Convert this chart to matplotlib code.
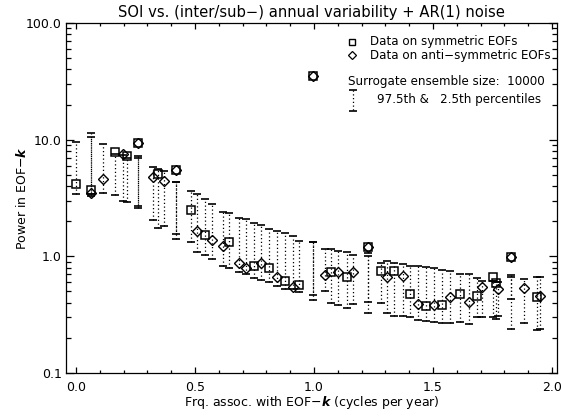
import numpy as np
import matplotlib
matplotlib.use("Agg")
import matplotlib.pyplot as plt

# ---------------- data ----------------
sym_freq = [0.000, 0.062, 0.164, 0.213, 0.262, 0.346, 0.420, 0.482, 0.542, 0.644,
            0.749, 0.812, 0.878, 0.938, 0.997, 1.070, 1.140, 1.228, 1.282, 1.338,
            1.403, 1.469, 1.539, 1.613, 1.684, 1.753, 1.765, 1.826, 1.938]
sym_val = [4.2, 3.7, 7.8, 7.2, 9.3, 5.1, 5.5, 2.5, 1.52, 1.33,
           0.83, 0.80, 0.61, 0.57, 35.0, 0.74, 0.66, 1.2, 0.75, 0.75,
           0.48, 0.376, 0.38, 0.48, 0.46, 0.66, 0.59, 0.98, 0.45]
sym_lo = [3.4, 3.4, 3.36, 2.95, 2.6, 1.76, 1.56, 1.34, 1.02, 0.79,
          0.65, 0.60, 0.53, 0.49, 0.47, 0.40, 0.36, 0.41, 0.40, 0.31,
          0.30, 0.28, 0.267, 0.275, 0.30, 0.30, 0.29, 0.24, 0.234]
sym_hi = [9.5, 11.3, 7.6, 7.0, 7.0, 5.6, 4.3, 3.6, 3.1, 2.34,
          1.92, 1.71, 1.58, 1.36, 1.34, 1.16, 1.10, 1.06, 0.87, 0.88,
          0.82, 0.81, 0.77, 0.71, 0.65, 0.62, 0.60, 0.69, 0.67]

anti_freq = [0.062, 0.115, 0.199, 0.262, 0.322, 0.371, 0.420, 0.507, 0.573, 0.616,
             0.685, 0.713, 0.779, 0.843, 0.913, 0.997, 1.046, 1.102, 1.165, 1.228,
             1.305, 1.372, 1.435, 1.504, 1.571, 1.653, 1.707, 1.774, 1.826, 1.884,
             1.950]
anti_val = [3.5, 4.6, 7.6, 9.3, 4.8, 4.4, 5.5, 1.66, 1.38, 1.23,
            0.88, 0.79, 0.87, 0.67, 0.55, 35.0, 0.69, 0.73, 0.74, 1.2,
            0.67, 0.68, 0.39, 0.38, 0.45, 0.41, 0.55, 0.53, 0.98, 0.54,
            0.46]
anti_lo = [3.3, 3.5, 3.0, 2.7, 2.05, 1.82, 1.41, 1.10, 0.95, 0.82,
           0.73, 0.70, 0.63, 0.56, 0.52, 0.42, 0.50, 0.38, 0.39, 0.33,
           0.33, 0.31, 0.285, 0.275, 0.267, 0.262, 0.30, 0.31, 0.43, 0.27,
           0.24]
anti_hi = [10.5, 9.1, 7.4, 7.2, 5.8, 5.4, 4.3, 3.44, 2.8, 2.42,
           2.15, 2.08, 1.85, 1.65, 1.48, 1.34, 1.15, 1.12, 1.03, 1.00,
           0.91, 0.86, 0.83, 0.79, 0.75, 0.71, 0.62, 0.60, 0.66, 0.64,
           0.67]

x_ticks = [0.0, 0.5, 1.0, 1.5, 2.0]
x_ticklabels = ["0.0", "0.5", "1.0", "1.5", "2.0"]
y_ticks = [0.1, 1.0, 10.0, 100.0]
y_ticklabels = ["0.1", "1.0", "10.0", "100.0"]

title = "SOI vs. (inter/sub\u2212) annual variability + AR(1) noise"
xlabel = r"Frq. assoc. with EOF$-\mathbfit{k}$ (cycles per year)"
ylabel = r"Power in EOF$-\mathbfit{k}$"
legend_rows = ["Data on symmetric EOFs", "Data on anti\u2212symmetric EOFs",
               "Surrogate ensemble size:  10000", "97.5th &   2.5th percentiles"]

# ---------------- figure ----------------
plt.rcParams["font.family"] = ["DejaVu Sans"]
plt.rcParams["mathtext.fontset"] = "dejavusans"
W, H = 561, 418
fig = plt.figure(figsize=(W / 100, H / 100), dpi=100)
ax = fig.add_axes([66 / W, 1 - 373 / H, (557 - 66) / W, (373 - 23) / H])
ax.set_yscale("log")
ax.set_xlim(-0.042, 2.021)
ax.set_ylim(0.1, 100)

dot = (0, (1, 2.0))
cap_ms = 6.0
for f, lo, hi in [(sym_freq, sym_lo, sym_hi), (anti_freq, anti_lo, anti_hi)]:
    ax.vlines(f, lo, hi, colors="black", linestyles=dot, linewidth=0.9)
    ax.plot(f, lo, ls="none", marker="_", ms=cap_ms, mew=1.2, color="black")
    ax.plot(f, hi, ls="none", marker="_", ms=cap_ms, mew=1.2, color="black")

ax.plot(sym_freq, sym_val, ls="none", marker="s", ms=5.3, mfc="none",
        mec="black", mew=1.1)
ax.plot(anti_freq, anti_val, ls="none", marker="D", ms=4.6, mfc="none",
        mec="black", mew=1.0)

ax.set_xticks(x_ticks)
ax.set_xticklabels(x_ticklabels)
ax.set_yticks(y_ticks)
ax.set_yticklabels(y_ticklabels)
ax.xaxis.set_minor_locator(matplotlib.ticker.MultipleLocator(0.1))
ax.yaxis.set_minor_locator(matplotlib.ticker.LogLocator(base=10, subs=np.arange(2, 10)))
ax.yaxis.set_minor_formatter(matplotlib.ticker.NullFormatter())
ax.tick_params(axis="both", which="both", direction="in", top=True, right=True,
               labelsize=9, width=0.9, colors="black")
ax.tick_params(axis="x", which="major", length=4, pad=6)
ax.tick_params(axis="x", which="minor", length=2.3)
ax.tick_params(axis="y", which="major", length=6, pad=3)
ax.tick_params(axis="y", which="minor", length=3.5)
for s in ax.spines.values():
    s.set_linewidth(0.9)

ax.set_title(title, fontsize=10.6, pad=4)
ax.set_xlabel(xlabel, fontsize=9, labelpad=0)
ax.set_ylabel(ylabel, fontsize=9)
ax.yaxis.set_label_coords((29 - 66) / (557 - 66), 0.5)

# legend (manual, IDL style)
def ax_xy(px, py):
    return ((px - 66) / (557 - 66), (373 - py) / (373 - 23))

fs = 8.6
ax.plot(*ax_xy(352, 42), transform=ax.transAxes, marker="s", ms=4.2, mfc="none",
        mec="black", mew=1.0, ls="none")
ax.text(*ax_xy(370, 42), legend_rows[0], transform=ax.transAxes, fontsize=fs, va="center")
ax.plot(*ax_xy(352, 55), transform=ax.transAxes, marker="D", ms=3.6, mfc="none",
        mec="black", mew=0.9, ls="none")
ax.text(*ax_xy(370, 55), legend_rows[1], transform=ax.transAxes, fontsize=fs, va="center")
ax.text(*ax_xy(348, 81), legend_rows[2], transform=ax.transAxes, fontsize=fs, va="center")
x0, y_top = ax_xy(353, 90)
_, y_bot = ax_xy(353, 111)
ax.plot([x0, x0], [y_top, y_bot], transform=ax.transAxes, color="black", ls=dot, lw=0.9)
ax.plot([x0, x0], [y_top, y_bot], transform=ax.transAxes, ls="none", marker="_",
        ms=cap_ms, mew=1.2, color="black")
ax.text(*ax_xy(377, 100), legend_rows[3], transform=ax.transAxes, fontsize=fs, va="center")

fig.savefig("out.png", dpi=100)
